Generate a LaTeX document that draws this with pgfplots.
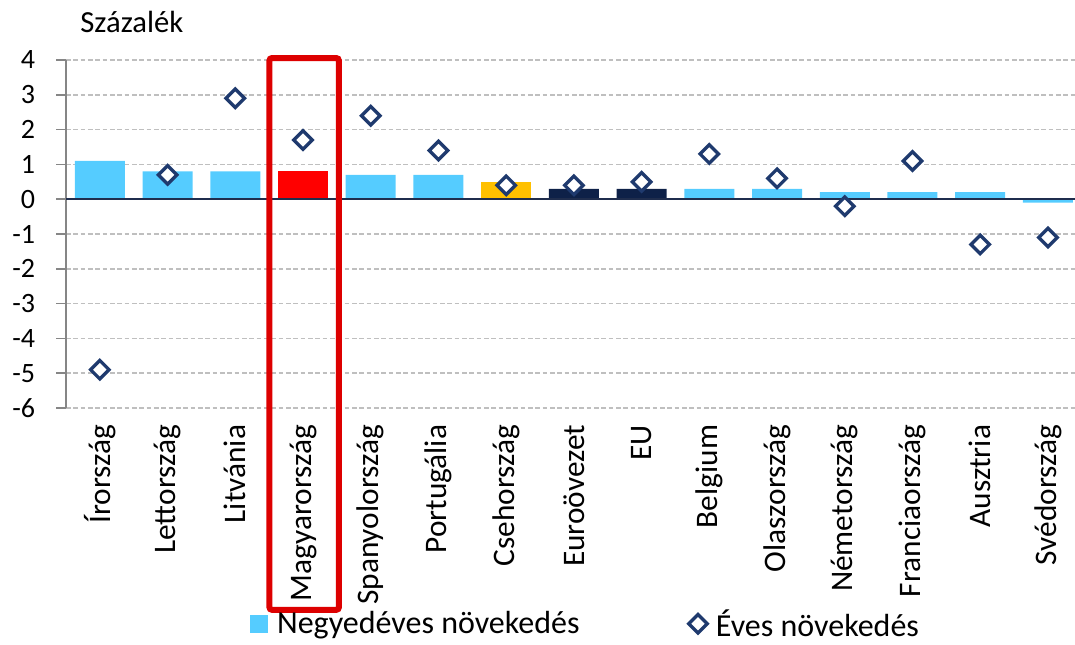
\documentclass[border=0pt]{standalone}
\usepackage{pgfplots}
\pgfplotsset{compat=1.18}
\usepackage{fontspec}
\setmainfont{Carlito}
\definecolor{lblue}{HTML}{55CCFF}
\definecolor{hured}{HTML}{FF0000}
\definecolor{czorange}{HTML}{FFC000}
\definecolor{navy}{HTML}{0E2148}
\definecolor{dblue}{HTML}{1F3A6E}
\definecolor{zeroc}{HTML}{1F2D4D}
\definecolor{gridc}{HTML}{BFBFBF}
\definecolor{axc}{HTML}{868686}
\definecolor{boxred}{HTML}{DD0000}
\begin{document}
\begin{tikzpicture}
\begin{axis}[
  at={(0,0)}, anchor=south west,
  scale only axis, width=756.75pt, height=261pt,
  xmin=-0.5, xmax=14.4, ymin=-6, ymax=4,
  clip=false,
  axis lines=left,
  x axis line style={draw=none},
  y axis line style={-, axc, line width=1.3pt},
  xtick={0,...,14},
  xticklabels={Írország,Lettország,Litvánia,Magyarország,Spanyolország,Portugália,Csehország,Euroövezet,EU,Belgium,Olaszország,Németország,Franciaország,Ausztria,Svédország},
  xtick style={draw=none},
  xticklabel style={rotate=90, anchor=east, inner sep=5pt, font=\fontsize{23.5}{24}\selectfont},
  ytick={-6,-5,-4,-3,-2,-1,0,1,2,3,4},
  yticklabels={-6,-5,-4,-3,-2,-1,0,1,2,3,4},
  ytick style={axc, line width=1.3pt},
  tick align=outside,
  major tick length=7.5pt,
  yticklabel style={font=\fontsize{21}{22}\selectfont, anchor=east, inner sep=0pt, xshift=-15.5pt},
  ymajorgrids,
  major grid style={gridc, line width=1.1pt, dash pattern=on 3.5pt off 2pt},
  legend columns=2,
  legend style={at={(axis description cs:0.5154,-0.62)}, anchor=center, draw=none, fill=none,
    font=\fontsize{24}{25}\selectfont,
    /tikz/every even column/.append style={column sep=80pt},
    /tikz/every odd column/.append style={column sep=4.5pt}},
]
\addplot[ybar, bar width=37.5pt, bar shift=0pt, fill=lblue, draw=none,
  legend image code/.code={\fill[lblue] (0pt,-6.9pt) rectangle (13.5pt,6.9pt);}]
  coordinates {(0,1.1) (1,0.8) (2,0.8) (4,0.7) (5,0.7) (9,0.3) (10,0.3) (11,0.2) (12,0.2) (13,0.2) (14,-0.1)};
\addlegendentry{Negyedéves növekedés}
\addplot[ybar, bar width=37.5pt, bar shift=0pt, fill=hured, draw=none, forget plot]
  coordinates {(3,0.8)};
\addplot[ybar, bar width=37.5pt, bar shift=0pt, fill=czorange, draw=none, forget plot]
  coordinates {(6,0.5)};
\addplot[ybar, bar width=37.5pt, bar shift=0pt, fill=navy, draw=none, forget plot]
  coordinates {(7,0.3) (8,0.3)};
\draw[zeroc, line width=1.7pt] (axis cs:-0.5,0) -- (axis cs:14.4,0);
\addplot[only marks, mark=square*, mark size=4.9pt,
  mark options={rotate=45, fill=white, draw=dblue, line width=2.5pt}]
  coordinates {(0,-4.9) (1,0.7) (2,2.9) (3,1.7) (4,2.4) (5,1.4) (6,0.4) (7,0.4) (8,0.5) (9,1.3) (10,0.6) (11,-0.2) (12,1.1) (13,-1.3) (14,-1.1)};
\addlegendentry{Éves növekedés}
\draw[boxred, line width=4.5pt, rounded corners=2pt] (axis cs:2.504,4.057) rectangle (axis cs:3.53,-11.8);
\node[anchor=west, inner sep=0pt, font=\fontsize{23}{24}\selectfont] at (axis description cs:0.014,1.109) {Százalék};
\end{axis}
\pgfresetboundingbox
\path[use as bounding box] (-49.5pt,-177pt) rectangle (756.75pt,306pt);
\end{tikzpicture}
\end{document}
